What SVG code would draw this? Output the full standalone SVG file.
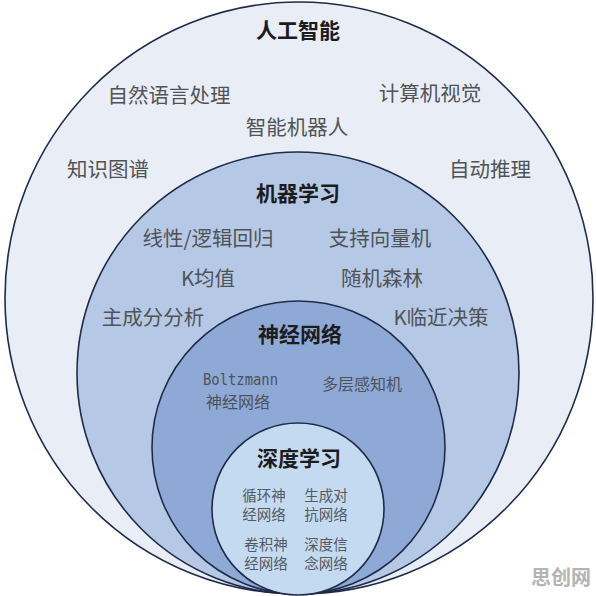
<svg xmlns="http://www.w3.org/2000/svg" width="596" height="596" viewBox="0 0 596 596">
<style>
.ring{stroke:#1f2b48;stroke-width:1.6}
.t{font-family:"Noto Sans CJK SC","Noto Sans",sans-serif;text-anchor:middle}
.h{font-size:21px;font-weight:bold;fill:#1c1c1c}
.i{font-size:20.5px;fill:#505356}
.s{font-size:16px;fill:#4d5259}
.x{font-size:14.5px;fill:#555a60}
.m{font-family:"DejaVu Sans Mono","Liberation Mono",monospace;font-size:15.5px;fill:#4d5259}
</style>
<rect width="596" height="596" fill="#ffffff"/>
<g id="ai">
<ellipse class="ring" cx="299" cy="298" rx="294" ry="296" fill="#e9edf6"/>
<text class="t h" x="298" y="38">人工智能</text>
<text class="t i" x="169" y="103">自然语言处理</text>
<text class="t i" x="430" y="101">计算机视觉</text>
<text class="t i" x="297" y="135">智能机器人</text>
<text class="t i" x="108" y="177">知识图谱</text>
<text class="t i" x="490" y="177">自动推理</text>
</g>
<g id="ml">
<circle class="ring" cx="298" cy="373" r="221" fill="#b5c9e7"/>
<text class="t h" x="298" y="201">机器学习</text>
<text class="t i" x="208" y="246">线性/逻辑回归</text>
<text class="t i" x="380" y="246">支持向量机</text>
<text class="t i" x="208" y="286">K均值</text>
<text class="t i" x="382" y="286">随机森林</text>
<text class="t i" x="153" y="325">主成分分析</text>
<text class="t i" x="441" y="325">K临近决策</text>
</g>
<g id="nn">
<circle class="ring" cx="298.5" cy="447.5" r="146.5" fill="#8fa9d7"/>
<text class="t h" x="300" y="342">神经网络</text>
<text class="m" x="203" y="385" textLength="75" lengthAdjust="spacingAndGlyphs">Boltzmann</text>
<text class="t s" x="238" y="408">神经网络</text>
<text class="t s" x="362" y="390">多层感知机</text>
</g>
<g id="dl">
<circle class="ring" cx="298" cy="509" r="86" fill="#c4daf0"/>
<text class="t h" x="299" y="466">深度学习</text>
<text class="t x" x="264" y="501">循环神</text>
<text class="t x" x="264" y="520">经网络</text>
<text class="t x" x="326" y="501">生成对</text>
<text class="t x" x="326" y="520">抗网络</text>
<text class="t x" x="266" y="550">卷积神</text>
<text class="t x" x="266" y="569">经网络</text>
<text class="t x" x="326" y="550">深度信</text>
<text class="t x" x="326" y="569">念网络</text>
</g>
<g id="connectors"/>
<text class="t" x="561" y="585" style="font-size:20px;font-weight:bold;fill:#b4b4b4">思创网</text>
</svg>
